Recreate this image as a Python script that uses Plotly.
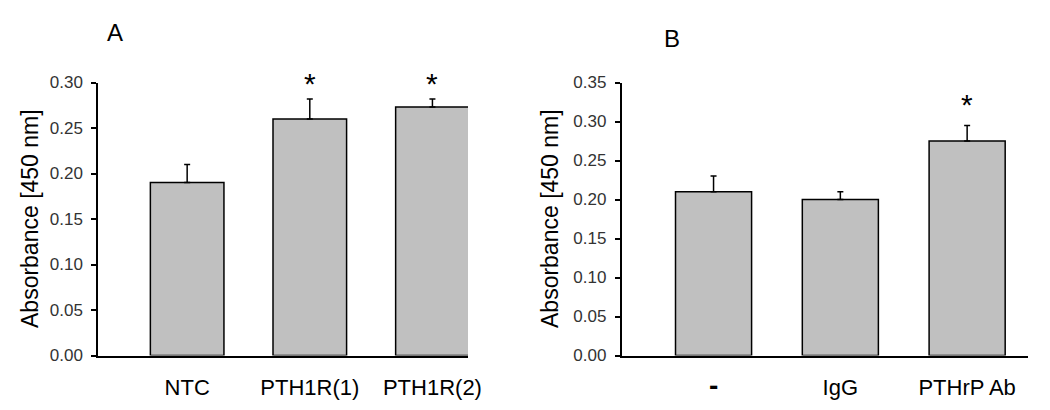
import plotly.graph_objects as go

# ---- data ----
cats_a = ["NTC", "PTH1R(1)", "PTH1R(2)"]
vals_a = [0.190, 0.260, 0.273]
err_a = [0.020, 0.022, 0.009]
sig_a = [False, True, True]

cats_b = ["<b><span style='font-size:28px'>-</span></b>", "IgG", "PTHrP Ab"]
vals_b = [0.210, 0.200, 0.275]
err_b = [0.020, 0.010, 0.020]
sig_b = [False, False, True]

ytitle = "Absorbance [450 nm]"
FONT = "Arial, Liberation Sans, sans-serif"
BAR_FILL = "#c0c0c0"

fig = go.Figure()

def add_panel(cats, vals, errs, xa, ya):
    fig.add_trace(go.Bar(
        x=list(range(len(cats))), y=vals, width=0.6,
        marker=dict(color=BAR_FILL, line=dict(color="black", width=1.5)),
        error_y=dict(type="data", symmetric=False, array=errs,
                     arrayminus=[0] * len(errs), color="black",
                     thickness=1.5, width=3),
        xaxis=xa, yaxis=ya, showlegend=False, hoverinfo="skip"))

add_panel(cats_a, vals_a, err_a, "x", "y")
add_panel(cats_b, vals_b, err_b, "x2", "y2")

W, H = 1050, 410
def px_x(p):
    return p / W
def px_y(p):
    return (H - p) / H

ydom = [px_y(355.5), px_y(82.5)]

common_x = dict(showgrid=False, zeroline=False, showline=True, linecolor="black",
                linewidth=1.5, ticks="", tickmode="array",
                tickfont=dict(family=FONT, size=22, color="black"),
                ticklabelstandoff=11, automargin=False, fixedrange=True)
common_y = dict(showgrid=False, zeroline=False, showline=True, linecolor="black",
                linewidth=1.5, ticks="outside", ticklen=5, tickwidth=1.5,
                tickcolor="black", dtick=0.05, tickformat=".2f",
                tickfont=dict(family=FONT, size=17, color="#333333"),
                ticklabelstandoff=5, automargin=False, fixedrange=True)

fig.update_layout(
    width=W, height=H,
    margin=dict(l=0, r=0, t=0, b=0),
    paper_bgcolor="white", plot_bgcolor="white",
    xaxis=dict(common_x, domain=[px_x(98), px_x(468)], range=[-0.727, 2.29],
               tickvals=list(range(len(cats_a))), ticktext=cats_a, anchor="y"),
    yaxis=dict(common_y, domain=ydom, range=[0, 0.30], anchor="x"),
    xaxis2=dict(common_x, domain=[px_x(621.5), px_x(1028)], range=[-0.726, 2.48],
                tickvals=list(range(len(cats_b))), ticktext=cats_b, anchor="y2"),
    yaxis2=dict(common_y, domain=ydom, range=[0, 0.35], anchor="x2"),
)

ann = []
star_font = dict(family=FONT, size=30, color="black")
for i, (v, e, s) in enumerate(zip(vals_a, err_a, sig_a)):
    if s:
        ann.append(dict(x=i, y=v + e, xref="x", yref="y", text="*", showarrow=False,
                        font=star_font, yanchor="middle", yshift=15))
for i, (v, e, s) in enumerate(zip(vals_b, err_b, sig_b)):
    if s:
        ann.append(dict(x=i, y=v + e, xref="x2", yref="y2", text="*", showarrow=False,
                        font=star_font, yanchor="middle", yshift=21))
for xc in (30, 550):
    ann.append(dict(x=px_x(xc), y=px_y(219), xref="paper", yref="paper", text=ytitle,
                    textangle=-90, showarrow=False, xanchor="center", yanchor="middle",
                    font=dict(family=FONT, size=23, color="black")))
ann.append(dict(x=px_x(115), y=px_y(33), xref="paper", yref="paper", text="A",
                showarrow=False, xanchor="center", yanchor="middle",
                font=dict(family=FONT, size=24, color="black")))
ann.append(dict(x=px_x(672), y=px_y(39), xref="paper", yref="paper", text="B",
                showarrow=False, xanchor="center", yanchor="middle",
                font=dict(family=FONT, size=24, color="black")))
fig.update_layout(annotations=ann)

fig.write_html("out.html", config={"displayModeBar": False},
               post_script="document.body.style.margin='0';document.body.style.overflow='hidden';")
